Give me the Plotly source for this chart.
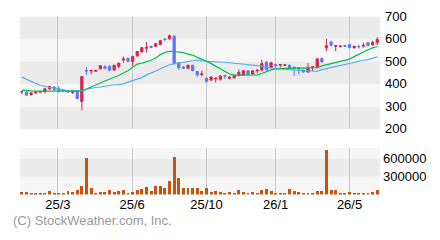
import plotly.graph_objects as go

# ---- data ----
opens = [364, 364, 353, 361, 363, 364, 378, 386, 378, 372, 369, 362, 367, 322, 460, 457, 456, 467, 476, 478,
         461, 478, 506, 514, 500, 525, 542, 558, 567, 567, 575, 600, 600, 612, 494, 475, 470, 483, 455, 441,
         425, 417, 422, 421, 438, 425, 428, 437, 439, 458, 444, 458, 462, 497, 472, 486, 483, 482, 483, 475,
         472, 462, 453, 474, 472, 512, 560, 586, 567, 565, 570, 575, 560, 568, 567, 583, 575, 583]
highs = [367, 365, 361, 367, 367, 383, 392, 389, 389, 373, 372, 372, 368, 433, 475, 461, 461, 483, 483, 483,
         483, 494, 522, 514, 522, 544, 562, 586, 568, 583, 595, 600, 619, 614, 495, 478, 483, 484, 456, 458,
         428, 435, 428, 439, 439, 433, 439, 464, 462, 458, 462, 464, 508, 500, 496, 490, 487, 486, 485, 476,
         472, 463, 492, 477, 514, 518, 600, 592, 572, 571, 574, 577, 570, 570, 583, 585, 592, 608]
lows = [355, 347, 347, 355, 361, 361, 372, 369, 361, 364, 361, 355, 331, 282, 439, 442, 455, 464, 464, 456,
        461, 469, 494, 500, 480, 519, 540, 539, 561, 564, 572, 589, 597, 488, 464, 466, 464, 455, 430, 433,
        405, 411, 406, 414, 422, 419, 422, 433, 435, 442, 442, 447, 456, 458, 470, 470, 472, 480, 466, 435,
        442, 449, 449, 456, 470, 494, 545, 565, 545, 563, 565, 556, 558, 557, 561, 568, 567, 572]
closes = [366, 350, 360, 364, 366, 378, 389, 375, 372, 368, 364, 368, 336, 433, 457, 460, 460, 481, 469, 461,
          483, 492, 511, 500, 522, 544, 561, 562, 562, 578, 592, 597, 614, 490, 472, 470, 483, 459, 440, 445,
          411, 430, 425, 435, 435, 430, 436, 451, 458, 442, 458, 461, 490, 463, 494, 481, 486, 485, 468, 472,
          467, 453, 472, 477, 511, 498, 570, 572, 570, 568, 567, 562, 567, 565, 571, 570, 585, 597]
ma_short = [372, 369, 369, 368, 368, 368, 368, 368, 368, 368, 368, 368, 367, 368, 377, 385, 393, 404, 413, 420,
            427, 437, 448, 458, 474, 488, 492, 497, 505, 515, 530, 540, 545, 544, 543, 539, 532, 528, 518, 510,
            502, 490, 479, 469, 455, 444, 439, 439, 439, 439, 439, 440, 446, 454, 462, 466, 469, 469, 469, 469,
            469, 469, 469, 470, 472, 480, 485, 490, 495, 499, 503, 510, 521, 532, 544, 552, 560, 566]
ma_long = [430, 420, 412, 402, 394, 390, 386, 381, 376, 371, 369, 369, 369, 370, 376, 381, 384, 386, 390, 394,
           396, 397, 400, 408, 415, 421, 428, 440, 447, 457, 467, 476, 485, 489, 492, 495, 497, 502, 506, 504,
           499, 499, 499, 498, 496, 494, 492, 490, 488, 486, 485, 482, 479, 474, 470, 468, 466, 464, 463, 462,
           460, 459, 458, 457, 457, 463, 468, 473, 478, 482, 486, 490, 496, 500, 505, 508, 515, 520]
volumes = [47, 47, 37, 37, 21, 37, 63, 37, 21, 37, 63, 53, 79, 142, 621, 110, 37, 53, 53, 79,
           53, 68, 79, 37, 53, 79, 97, 126, 63, 158, 142, 110, 235, 640, 284, 110, 110, 110, 110, 63,
           110, 47, 63, 42, 29, 45, 32, 76, 45, 29, 45, 18, 79, 95, 63, 32, 16, 16, 95, 63,
           42, 32, 26, 32, 63, 63, 758, 79, 79, 26, 26, 42, 26, 32, 16, 16, 47, 74]
volumes = [v * 1000 for v in volumes]
grid_pos = [7.8, 23.9, 40.0, 55.0, 71.0]
tick_labels = ["25/3", "25/6", "25/10", "26/1", "26/5"]
price_ticks = [200, 300, 400, 500, 600, 700]
vol_ticks = [300000, 600000]

x = list(range(len(opens)))

RED = "#d6274b"
BLUE = "#5c78f6"
DARK = "#ebebeb"
LIGHT = "#f6f6f6"
FONT = "Liberation Sans Narrow, Arial Narrow, Liberation Sans, sans-serif"
XR = [-0.4, 77.6]

fig = go.Figure()
fig.add_trace(go.Scatter(x=x, y=ma_long, mode="lines", line=dict(color="#5aaaf2", width=1.2),
                         hoverinfo="skip", showlegend=False))
fig.add_trace(go.Scatter(x=x, y=ma_short, mode="lines", line=dict(color="#00c04a", width=1.2),
                         hoverinfo="skip", showlegend=False))
fig.add_trace(go.Candlestick(x=x, open=opens, high=highs, low=lows, close=closes,
                             increasing=dict(line=dict(color=RED, width=1), fillcolor=RED),
                             decreasing=dict(line=dict(color=BLUE, width=1), fillcolor=BLUE),
                             whiskerwidth=0, showlegend=False))
fig.add_trace(go.Bar(x=x, y=volumes, xaxis="x2", yaxis="y2", marker=dict(color="#c6540e", line=dict(width=0)),
                     width=0.62, showlegend=False))

shapes = []
for lo, hi, col in [(600, 700, DARK), (500, 600, LIGHT), (400, 500, DARK), (300, 400, LIGHT), (200, 300, DARK)]:
    shapes.append(dict(type="rect", xref="x domain", yref="y", x0=0, x1=1, y0=lo, y1=hi,
                       fillcolor=col, line=dict(width=0), layer="below"))
for lo, hi, col in [(0, 300000, LIGHT), (300000, 600000, DARK), (600000, 790000, LIGHT)]:
    shapes.append(dict(type="rect", xref="x2 domain", yref="y2", x0=0, x1=1, y0=lo, y1=hi,
                       fillcolor=col, line=dict(width=0), layer="below"))

xdom = [20 / 440, 380 / 440]
tf = dict(family=FONT, size=13, color="#000000")
fig.update_layout(
    width=440, height=240, margin=dict(l=0, r=0, t=0, b=0),
    paper_bgcolor="white", plot_bgcolor="white",
    font=dict(family=FONT, size=13, color="#000000"),
    shapes=shapes, bargap=0,
    xaxis=dict(domain=xdom, range=XR, anchor="y", tickvals=grid_pos, showticklabels=False,
               showgrid=True, gridcolor="#c8c8c8", gridwidth=1, zeroline=False, ticks="",
               rangeslider=dict(visible=False), showline=False),
    xaxis2=dict(domain=xdom, range=XR, anchor="y2", tickvals=grid_pos, ticktext=tick_labels,
                showgrid=True, gridcolor="#c8c8c8", gridwidth=1, zeroline=False, ticks="", showline=False,
                tickfont=tf, ticklabelstandoff=0),
    yaxis=dict(domain=[(240 - 130) / 240, (240 - 10) / 240], range=[200, 700], side="right", anchor="x",
               tickvals=price_ticks, ticktext=[str(v) for v in price_ticks], showgrid=False, zeroline=False,
               ticks="", tickfont=tf, ticklabelstandoff=4),
    yaxis2=dict(domain=[(240 - 200) / 240, (240 - 150) / 240], range=[0, 790000], side="right", anchor="x2",
                tickvals=vol_ticks, ticktext=[str(v) for v in vol_ticks], showgrid=False, zeroline=False,
                ticks="", tickfont=tf, ticklabelstandoff=2),
    annotations=[dict(text="(C) StockWeather.com, Inc.", xref="paper", yref="paper",
                      x=11 / 440, y=(240 - 228) / 240, xanchor="left", yanchor="middle", showarrow=False,
                      font=dict(family=FONT, size=13, color="#999999"))],
)

fig.write_html("out.html")
